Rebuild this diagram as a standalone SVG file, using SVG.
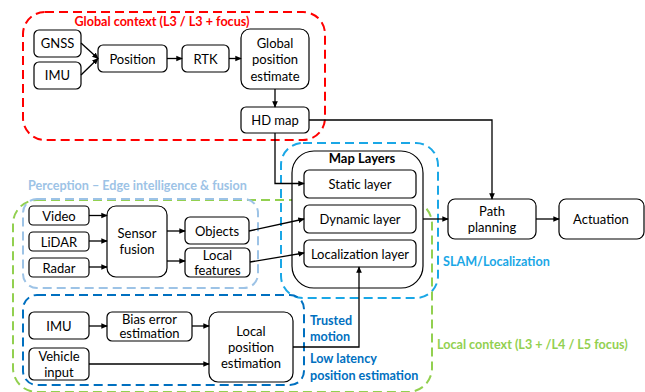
<svg xmlns="http://www.w3.org/2000/svg" width="645" height="392" viewBox="0 0 645 392">
<defs>
<marker id="ah" viewBox="0 0 8 8" refX="7" refY="4" markerWidth="5" markerHeight="5" orient="auto">
<path d="M0,0.5 L8,4 L0,7.5 z" fill="#000"/>
</marker>
<style>
.n{fill:#fff;stroke:#000;stroke-width:1.2}
.t{font-family:Lato,"Open Sans",sans-serif;font-size:13px;fill:#000;text-anchor:middle}
.c{fill:none;stroke:#000;stroke-width:1.3;marker-end:url(#ah)}
.g{fill:none;stroke-width:2;stroke-dasharray:9,5}
.lb{font-family:Lato,"Open Sans",sans-serif;font-size:12.6px;font-weight:bold}
</style>
</defs>
<rect width="645" height="392" fill="#fff"/>
<g id="global-context">
<rect class="g" x="23" y="12" width="302" height="128" rx="22" stroke="#ff0000"/>
<text class="lb" x="162" y="26" fill="#ff0000" text-anchor="middle">Global context (L3 / L3 + focus)</text>
</g>
<g id="slam">
<rect class="g" x="281" y="143" width="157" height="155" rx="22" stroke="#1aa7e6"/>
<text class="lb" x="443" y="266" fill="#1aa7e6">SLAM/Localization</text>
</g>
<g id="local-context">
<rect class="g" x="13" y="200" width="419" height="192" rx="24" stroke="#92d050"/>
<text class="lb" x="437" y="349" fill="#92d050">Local context (L3 + /L4 / L5 focus)</text>
</g>
<g id="perception">
<rect class="g" x="23" y="199" width="235" height="89" rx="14" stroke="#9dc3e6"/>
<text class="lb" x="28" y="190" fill="#9dc3e6">Perception – Edge intelligence &amp; fusion</text>
</g>
<g id="low-latency">
<rect class="g" x="23" y="295" width="281" height="90" rx="14" stroke="#0070c0"/>
<text class="lb" x="310" y="325" fill="#0070c0">Trusted</text>
<text class="lb" x="310" y="341" fill="#0070c0">motion</text>
<text class="lb" x="310" y="363" fill="#0070c0">Low latency</text>
<text class="lb" x="310" y="380" fill="#0070c0">position estimation</text>
</g>
<g id="gnss"><rect class="n" x="34" y="30" width="47" height="27" rx="5"/><text class="t" x="57.5" y="48">GNSS</text></g>
<g id="imu-global"><rect class="n" x="34" y="62" width="47" height="27" rx="5"/><text class="t" x="57.5" y="80">IMU</text></g>
<g id="position"><rect class="n" x="98" y="45" width="69" height="27" rx="5"/><text class="t" x="132.5" y="63.5">Position</text></g>
<g id="rtk"><rect class="n" x="182" y="45" width="47" height="27" rx="5"/><text class="t" x="205.5" y="63.5">RTK</text></g>
<g id="global-position"><rect class="n" x="241" y="29" width="68" height="60" rx="9"/><text class="t" x="275" y="48">Global</text><text class="t" x="275" y="64">position</text><text class="t" x="275" y="81">estimate</text></g>
<g id="hd-map"><rect class="n" x="241" y="107" width="68" height="26" rx="5"/><text class="t" x="275" y="125">HD map</text></g>
<g id="map-layers"><rect class="n" x="292" y="151" width="131" height="137" rx="22"/><text class="t" x="362" y="163" font-weight="bold">Map Layers</text></g>
<g id="static-layer"><rect class="n" x="304" y="170" width="112" height="28" rx="5"/><text class="t" x="360" y="189">Static layer</text></g>
<g id="dynamic-layer"><rect class="n" x="304" y="205" width="112" height="28" rx="5"/><text class="t" x="360" y="224">Dynamic layer</text></g>
<g id="localization-layer"><rect class="n" x="304" y="240" width="112" height="27" rx="5"/><text class="t" x="360" y="258.5">Localization layer</text></g>
<g id="path-planning"><rect class="n" x="448" y="199" width="88" height="40" rx="7"/><text class="t" x="492" y="216">Path</text><text class="t" x="492" y="232">planning</text></g>
<g id="actuation"><rect class="n" x="559" y="199" width="85" height="40" rx="7"/><text class="t" x="601" y="224">Actuation</text></g>
<g id="video"><rect class="n" x="29" y="206" width="60" height="19" rx="4"/><text class="t" x="59" y="220.5">Video</text></g>
<g id="lidar"><rect class="n" x="29" y="232" width="60" height="19" rx="4"/><text class="t" x="59" y="246.5">LiDAR</text></g>
<g id="radar"><rect class="n" x="29" y="258" width="60" height="19" rx="4"/><text class="t" x="59" y="272.5">Radar</text></g>
<g id="sensor-fusion"><rect class="n" x="107" y="206" width="60" height="71" rx="9"/><text class="t" x="137" y="238">Sensor</text><text class="t" x="137" y="254">fusion</text></g>
<g id="objects"><rect class="n" x="185" y="217" width="64" height="27" rx="5"/><text class="t" x="217" y="235.5">Objects</text></g>
<g id="local-features"><rect class="n" x="185" y="248" width="65" height="29" rx="5"/><text class="t" x="217.5" y="260">Local</text><text class="t" x="217.5" y="275">features</text></g>
<g id="imu-local"><rect class="n" x="29" y="312" width="60" height="27" rx="5"/><text class="t" x="59" y="330.5">IMU</text></g>
<g id="vehicle-input"><rect class="n" x="29" y="348" width="60" height="32" rx="5"/><text class="t" x="59" y="361">Vehicle</text><text class="t" x="59" y="377">input</text></g>
<g id="bias-error"><rect class="n" x="107" y="312" width="85" height="29" rx="5"/><text class="t" x="149.5" y="323.5">Bias error</text><text class="t" x="149.5" y="338">estimation</text></g>
<g id="local-position"><rect class="n" x="209" y="312" width="84" height="70" rx="9"/><text class="t" x="251" y="336">Local</text><text class="t" x="251" y="352">position</text><text class="t" x="251" y="368">estimation</text></g>
<g id="connectors">
<path class="c" d="M81,43 L98,58.5"/>
<path class="c" d="M81,75 L98,58.5"/>
<path class="c" d="M167,58.5 L182,58.5"/>
<path class="c" d="M229,58.5 L241,58.5"/>
<path class="c" d="M275,89 L275,107"/>
<path class="c" d="M309,120 L492,120 L492,199"/>
<path class="c" d="M275,133 L275,183.5 L304,183.5"/>
<path class="c" d="M423,219 L448,219"/>
<path class="c" d="M536,219 L559,219"/>
<path class="c" d="M89,215.5 L107,215.5"/>
<path class="c" d="M89,241 L107,241"/>
<path class="c" d="M89,267 L107,267"/>
<path class="c" d="M167,231 L185,231"/>
<path class="c" d="M167,261 L185,261"/>
<path class="c" d="M249,231 L304,219"/>
<path class="c" d="M250,262 L304,253"/>
<path class="c" d="M89,326 L107,326"/>
<path class="c" d="M192,326 L209,326"/>
<path class="c" d="M89,364 L209,364"/>
<path class="c" d="M293,347 L359,347 L359,267"/>
</g>
</svg>
